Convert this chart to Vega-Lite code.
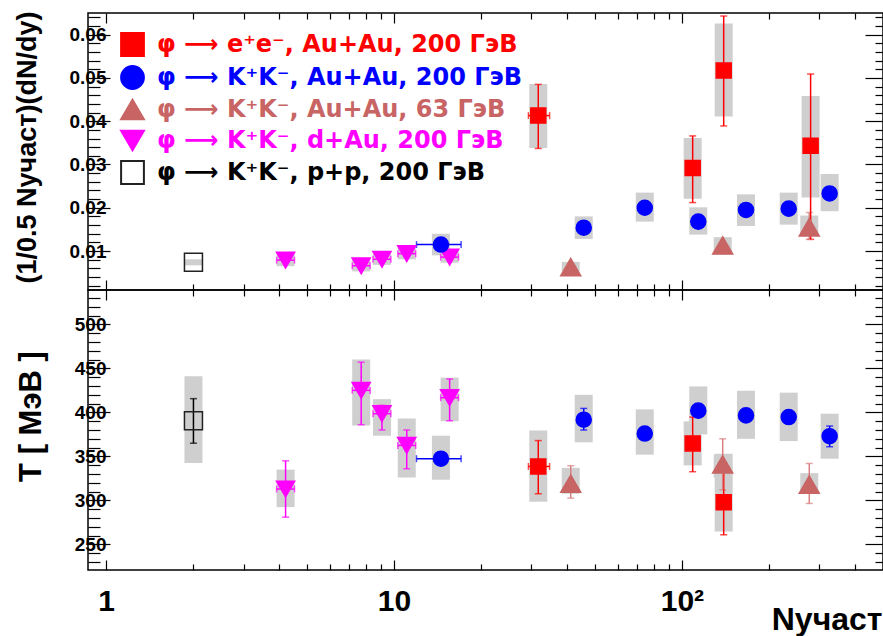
{
  "$schema": "https://vega.github.io/schema/vega-lite/v6.json",
  "background": "white",
  "padding": {"left": 12, "top": 7, "right": 2, "bottom": 2},
  "spacing": 0,
  "bounds": "flush",
  "config": {
    "view": {"stroke": "#000000", "strokeWidth": 1.5},
    "font": "Liberation Sans",
    "axis": {"grid": false, "domain": false, "labelFont": "Liberation Sans", "labelFontWeight": "bold", "labelColor": "#000000", "tickColor": "#000000", "tickWidth": 1.2, "titleFont": "Liberation Sans", "titleFontWeight": "bold", "titleColor": "#000000", "labelOverlap": false, "labelFlush": false},
    "legend": {"orient": "none", "legendX": 32, "legendY": 19, "padding": 0, "labelFont": "DejaVu Sans", "labelFontSize": 24, "labelFontWeight": "bold", "labelLimit": 700, "symbolSize": 520, "symbolStrokeWidth": 2, "rowPadding": 2, "labelOffset": 12, "title": null}
  },
  "datasets": {
    "pts": [
      {"panel": "A", "series": "pp", "x": 2.01, "y": 0.0074, "slo": 0.0067, "shi": 0.0081},
      {"panel": "A", "series": "dau", "x": 4.2, "y": 0.0079, "ylo": 0.0076, "yhi": 0.0082, "slo": 0.0065, "shi": 0.0093, "xlo": 3.91, "xhi": 4.51},
      {"panel": "A", "series": "dau", "x": 7.69, "y": 0.0066, "ylo": 0.0063, "yhi": 0.0069, "slo": 0.0053, "shi": 0.0081, "xlo": 7.16, "xhi": 8.26},
      {"panel": "A", "series": "dau", "x": 9.08, "y": 0.0081, "ylo": 0.0078, "yhi": 0.0084, "slo": 0.0068, "shi": 0.0096, "xlo": 8.45, "xhi": 9.75},
      {"panel": "A", "series": "dau", "x": 11.07, "y": 0.0094, "ylo": 0.0091, "yhi": 0.0097, "slo": 0.0081, "shi": 0.0109, "xlo": 10.31, "xhi": 11.89},
      {"panel": "A", "series": "dau", "x": 15.6, "y": 0.0086, "ylo": 0.0083, "yhi": 0.0089, "slo": 0.0073, "shi": 0.0101, "xlo": 14.52, "xhi": 16.75},
      {"panel": "A", "series": "kk200", "x": 14.55, "y": 0.0115, "ylo": 0.0111, "yhi": 0.0119, "slo": 0.009, "shi": 0.014, "xlo": 11.97, "xhi": 17.1},
      {"panel": "A", "series": "kk200", "x": 45.6, "y": 0.0154, "ylo": 0.015, "yhi": 0.0158, "slo": 0.0128, "shi": 0.018},
      {"panel": "A", "series": "kk200", "x": 74.3, "y": 0.02, "ylo": 0.0196, "yhi": 0.0204, "slo": 0.0168, "shi": 0.0235},
      {"panel": "A", "series": "kk200", "x": 114, "y": 0.0168, "ylo": 0.0164, "yhi": 0.0172, "slo": 0.0138, "shi": 0.0201},
      {"panel": "A", "series": "kk200", "x": 167, "y": 0.0195, "ylo": 0.0191, "yhi": 0.0199, "slo": 0.0158, "shi": 0.0231},
      {"panel": "A", "series": "kk200", "x": 235, "y": 0.0198, "ylo": 0.0194, "yhi": 0.0202, "slo": 0.0161, "shi": 0.0235},
      {"panel": "A", "series": "kk200", "x": 326, "y": 0.0233, "ylo": 0.0229, "yhi": 0.0237, "slo": 0.0192, "shi": 0.0278},
      {"panel": "A", "series": "ee", "x": 31.7, "y": 0.0413, "ylo": 0.0337, "yhi": 0.0485, "slo": 0.0338, "shi": 0.0486, "xlo": 29.3, "xhi": 34.7},
      {"panel": "A", "series": "ee", "x": 109, "y": 0.0292, "ylo": 0.0212, "yhi": 0.0366, "slo": 0.0221, "shi": 0.0361},
      {"panel": "A", "series": "ee", "x": 139.7, "y": 0.0517, "ylo": 0.0389, "yhi": 0.0643, "slo": 0.0411, "shi": 0.0626},
      {"panel": "A", "series": "ee", "x": 280, "y": 0.0343, "ylo": 0.0127, "yhi": 0.0509, "slo": 0.0224, "shi": 0.0458},
      {"panel": "A", "series": "kk63", "x": 41.1, "y": 0.0063, "slo": 0.0053, "shi": 0.0075},
      {"panel": "A", "series": "kk63", "x": 138.6, "y": 0.0113, "slo": 0.0092, "shi": 0.0132},
      {"panel": "A", "series": "kk63", "x": 277, "y": 0.0155, "ylo": 0.0127, "yhi": 0.0189, "slo": 0.014, "shi": 0.0182},
      {"panel": "B", "series": "pp", "x": 2.01, "y": 390.6, "ylo": 365, "yhi": 415.6, "slo": 342.4, "shi": 441},
      {"panel": "B", "series": "dau", "x": 4.2, "y": 313, "ylo": 281, "yhi": 345, "slo": 292.4, "shi": 335, "xlo": 3.91, "xhi": 4.51},
      {"panel": "B", "series": "dau", "x": 7.69, "y": 425, "ylo": 386, "yhi": 457, "slo": 385, "shi": 460, "xlo": 7.16, "xhi": 8.26},
      {"panel": "B", "series": "dau", "x": 9.08, "y": 398.5, "ylo": 380, "yhi": 408, "slo": 373.5, "shi": 415, "xlo": 8.45, "xhi": 9.75},
      {"panel": "B", "series": "dau", "x": 11.07, "y": 362.5, "ylo": 336, "yhi": 380, "slo": 326, "shi": 393, "xlo": 10.31, "xhi": 11.89},
      {"panel": "B", "series": "dau", "x": 15.6, "y": 416.7, "ylo": 390.5, "yhi": 438, "slo": 390, "shi": 439.4, "xlo": 14.52, "xhi": 16.75},
      {"panel": "B", "series": "kk200", "x": 14.55, "y": 347.4, "ylo": 341, "yhi": 354, "slo": 323.5, "shi": 373.5, "xlo": 11.97, "xhi": 17.1},
      {"panel": "B", "series": "kk200", "x": 45.6, "y": 391.7, "ylo": 380, "yhi": 404.5, "slo": 366, "shi": 420},
      {"panel": "B", "series": "kk200", "x": 74.3, "y": 376, "ylo": 370, "yhi": 382, "slo": 352, "shi": 403.4},
      {"panel": "B", "series": "kk200", "x": 114, "y": 402, "ylo": 396, "yhi": 408, "slo": 375, "shi": 429.5},
      {"panel": "B", "series": "kk200", "x": 167, "y": 396.6, "ylo": 391, "yhi": 402, "slo": 370, "shi": 424.6},
      {"panel": "B", "series": "kk200", "x": 235, "y": 394.7, "ylo": 389, "yhi": 400, "slo": 367.4, "shi": 422.4},
      {"panel": "B", "series": "kk200", "x": 326, "y": 373, "ylo": 361, "yhi": 384.5, "slo": 347.4, "shi": 398.5},
      {"panel": "B", "series": "ee", "x": 31.7, "y": 338.6, "ylo": 307.6, "yhi": 368, "slo": 298.5, "shi": 379.5, "xlo": 29.3, "xhi": 34.7},
      {"panel": "B", "series": "ee", "x": 109, "y": 364.8, "ylo": 332.6, "yhi": 394.7, "slo": 339.8, "shi": 389.8},
      {"panel": "B", "series": "ee", "x": 139.7, "y": 298, "ylo": 261, "yhi": 335, "slo": 264.8, "shi": 353},
      {"panel": "B", "series": "kk63", "x": 41.1, "y": 319, "ylo": 302.6, "yhi": 339.4, "slo": 307.6, "shi": 337},
      {"panel": "B", "series": "kk63", "x": 138.6, "y": 341, "ylo": 312, "yhi": 370, "slo": 326, "shi": 352},
      {"panel": "B", "series": "kk63", "x": 277, "y": 318, "ylo": 296.6, "yhi": 342, "slo": 307.6, "shi": 331}
    ]
  },
  "resolve": {
    "scale": {"x": "independent", "y": "independent", "shape": "independent", "fill": "independent", "stroke": "independent", "color": "independent", "size": "independent"},
    "legend": {"shape": "independent", "fill": "independent", "stroke": "independent", "color": "independent", "size": "independent"}
  },
  "vconcat": [
    {
      "width": 795,
      "height": 277,
      "data": {"name": "pts"},
      "transform": [{"filter": "datum.panel === 'A'"}],
      "resolve": {"axis": {"x": "independent", "y": "independent"}},
      "layer": [
        {
          "transform": [{"filter": "isValid(datum.slo)"}],
          "mark": {"type": "bar", "width": 18, "color": "#cfcfcf"},
          "encoding": {
            "x": {"field": "x", "type": "quantitative", "scale": {"type": "log", "domain": [0.9, 480], "nice": false},
              "axis": {"orient": "bottom", "values": [1,2,3,4,5,6,7,8,9,10,20,30,40,50,60,70,80,90,100,200,300,400], "labels": false, "title": null,
                "tickSize": {"condition": {"test": "datum.value===1||datum.value===10||datum.value===100", "value": -10}, "value": -6}}},
            "y": {"field": "slo", "type": "quantitative", "scale": {"domain": [0.001, 0.065], "nice": false},
              "axis": {"orient": "left", "values": [0.002,0.004,0.006,0.008,0.01,0.012,0.014,0.016,0.018,0.02,0.022,0.024,0.026,0.028,0.03,0.032,0.034,0.036,0.038,0.04,0.042,0.044,0.046,0.048,0.05,0.052,0.054,0.056,0.058,0.06,0.062,0.064],
                "labelExpr": "abs(datum.value*100-round(datum.value*100))<0.001 ? format(datum.value, '.2f') : ''",
                "labelFontSize": 19, "labelPadding": 4,
                "tickSize": {"condition": {"test": "abs(datum.value*100-round(datum.value*100))<0.001", "value": -22}, "value": -12},
                "title": "(1/0.5 Nучаст)(dN/dy)", "titleFontSize": 27, "titleAngle": -90, "titleX": -53, "titleY": 134, "titleBaseline": "alphabetic", "titleAlign": "center"}},
            "y2": {"field": "shi"}
          }
        },
        {
          "transform": [{"filter": "isValid(datum.ylo)"}],
          "mark": {"type": "errorbar", "ticks": {"size": 7}, "thickness": 1.5},
          "encoding": {
            "x": {"field": "x", "type": "quantitative", "axis": null},
            "y": {"field": "ylo", "type": "quantitative", "axis": null},
            "y2": {"field": "yhi"},
            "color": {"field": "series", "type": "nominal", "scale": {"domain": ["pp","dau","kk63","kk200","ee"], "range": ["#000000","#ff00ff","#d98080","#0000ff","#ff0000"]}, "legend": null}
          }
        },
        {
          "transform": [{"filter": "isValid(datum.xlo)"}],
          "mark": {"type": "errorbar", "ticks": {"size": 7}, "thickness": 1.5},
          "encoding": {
            "y": {"field": "y", "type": "quantitative", "axis": null},
            "x": {"field": "xlo", "type": "quantitative", "axis": null},
            "x2": {"field": "xhi"},
            "color": {"field": "series", "type": "nominal", "scale": {"domain": ["pp","dau","kk63","kk200","ee"], "range": ["#000000","#ff00ff","#d98080","#0000ff","#ff0000"]}, "legend": null}
          }
        },
        {
          "mark": {"type": "point", "opacity": 1, "fillOpacity": 1, "strokeWidth": 1.5},
          "encoding": {
            "x": {"field": "x", "type": "quantitative",
              "axis": {"orient": "top", "values": [1,2,3,4,5,6,7,8,9,10,20,30,40,50,60,70,80,90,100,200,300,400], "labels": false, "title": null,
                "tickSize": {"condition": {"test": "datum.value===1||datum.value===10||datum.value===100", "value": -10}, "value": -6}}},
            "y": {"field": "y", "type": "quantitative",
              "axis": {"orient": "right", "values": [0.002,0.004,0.006,0.008,0.01,0.012,0.014,0.016,0.018,0.02,0.022,0.024,0.026,0.028,0.03,0.032,0.034,0.036,0.038,0.04,0.042,0.044,0.046,0.048,0.05,0.052,0.054,0.056,0.058,0.06,0.062,0.064], "labels": false, "title": null,
                "tickSize": {"condition": {"test": "abs(datum.value*100-round(datum.value*100))<0.001", "value": -18}, "value": -8}}},
            "shape": {"field": "series", "type": "nominal",
              "scale": {"domain": ["ee","kk200","kk63","dau","pp"], "range": ["square","circle","triangle-up","triangle-down","square"]},
              "legend": {
                "title": null, "orient": "none", "legendX": 32, "legendY": 19,
                "labelExpr": "datum.value==='ee' ? 'φ ⟶  e⁺e⁻, Au+Au, 200  ГэВ' : datum.value==='kk200' ? 'φ ⟶  K⁺K⁻, Au+Au, 200 ГэВ' : datum.value==='kk63' ? 'φ ⟶  K⁺K⁻, Au+Au, 63 ГэВ' : datum.value==='dau' ? 'φ ⟶  K⁺K⁻, d+Au, 200 ГэВ' : 'φ ⟶  K⁺K⁻, p+p, 200 ГэВ'",
                "labelColor": {"expr": "datum.value === 'ee' ? '#ff0000' : datum.value === 'kk200' ? '#0000ff' : datum.value === 'kk63' ? '#c86464' : datum.value === 'dau' ? '#ff00ff' : '#000000'"}
              }},
            "fill": {"field": "series", "type": "nominal", "scale": {"domain": ["ee","kk200","kk63","dau","pp"], "range": ["#ff0000","#0000ff","#c86464","#ff00ff","transparent"]},
              "legend": {
                "title": null, "orient": "none", "legendX": 32, "legendY": 19,
                "labelExpr": "datum.value==='ee' ? 'φ ⟶  e⁺e⁻, Au+Au, 200  ГэВ' : datum.value==='kk200' ? 'φ ⟶  K⁺K⁻, Au+Au, 200 ГэВ' : datum.value==='kk63' ? 'φ ⟶  K⁺K⁻, Au+Au, 63 ГэВ' : datum.value==='dau' ? 'φ ⟶  K⁺K⁻, d+Au, 200 ГэВ' : 'φ ⟶  K⁺K⁻, p+p, 200 ГэВ'",
                "labelColor": {"expr": "datum.value === 'ee' ? '#ff0000' : datum.value === 'kk200' ? '#0000ff' : datum.value === 'kk63' ? '#c86464' : datum.value === 'dau' ? '#ff00ff' : '#000000'"}
              }},
            "stroke": {"field": "series", "type": "nominal", "scale": {"domain": ["ee","kk200","kk63","dau","pp"], "range": ["#ff0000","#0000ff","#c86464","#ff00ff","#222222"]},
              "legend": {
                "title": null, "orient": "none", "legendX": 32, "legendY": 19,
                "labelExpr": "datum.value==='ee' ? 'φ ⟶  e⁺e⁻, Au+Au, 200  ГэВ' : datum.value==='kk200' ? 'φ ⟶  K⁺K⁻, Au+Au, 200 ГэВ' : datum.value==='kk63' ? 'φ ⟶  K⁺K⁻, Au+Au, 63 ГэВ' : datum.value==='dau' ? 'φ ⟶  K⁺K⁻, d+Au, 200 ГэВ' : 'φ ⟶  K⁺K⁻, p+p, 200 ГэВ'",
                "labelColor": {"expr": "datum.value === 'ee' ? '#ff0000' : datum.value === 'kk200' ? '#0000ff' : datum.value === 'kk63' ? '#c86464' : datum.value === 'dau' ? '#ff00ff' : '#000000'"}
              }},
            "size": {"field": "series", "type": "nominal", "scale": {"type": "ordinal", "domain": ["pp","dau","kk63","kk200","ee"], "range": [324,330,400,227,225]}, "legend": null}
          }
        }
      ]
    },
    {
      "width": 795,
      "height": 280,
      "data": {"name": "pts"},
      "transform": [{"filter": "datum.panel === 'B'"}],
      "resolve": {"axis": {"x": "independent", "y": "independent"}},
      "layer": [
        {
          "transform": [{"filter": "isValid(datum.slo)"}],
          "mark": {"type": "bar", "width": 18, "color": "#cfcfcf"},
          "encoding": {
            "x": {"field": "x", "type": "quantitative", "scale": {"type": "log", "domain": [0.9, 480], "nice": false},
              "axis": {"orient": "bottom", "values": [1,2,3,4,5,6,7,8,9,10,20,30,40,50,60,70,80,90,100,200,300,400],
                "labelExpr": "datum.value===1 ? '1' : datum.value===10 ? '10' : datum.value===100 ? '10²' : ''",
                "labelFontSize": 30, "labelPadding": 26,
                "tickSize": {"condition": {"test": "datum.value===1||datum.value===10||datum.value===100", "value": -10}, "value": -6},
                "title": "Nучаст", "titleFontSize": 32, "titleAnchor": "end", "titleAlign": "right", "titleX": 794, "titleY": 59, "titleBaseline": "alphabetic"}},
            "y": {"field": "slo", "type": "quantitative", "scale": {"domain": [221, 539], "nice": false},
              "axis": {"orient": "left", "values": [230,240,250,260,270,280,290,300,310,320,330,340,350,360,370,380,390,400,410,420,430,440,450,460,470,480,490,500,510,520,530],
                "labelExpr": "datum.value % 50 === 0 ? '' + datum.value : ''",
                "labelFontSize": 19, "labelPadding": 4,
                "tickSize": {"condition": {"test": "datum.value % 50 === 0", "value": -22}, "value": -12},
                "title": "T [ МэВ ]", "titleFontSize": 31, "titleAngle": -90, "titleX": -48, "titleY": 126, "titleBaseline": "alphabetic", "titleAlign": "center"}},
            "y2": {"field": "shi"}
          }
        },
        {
          "transform": [{"filter": "isValid(datum.ylo)"}],
          "mark": {"type": "errorbar", "ticks": {"size": 7}, "thickness": 1.5},
          "encoding": {
            "x": {"field": "x", "type": "quantitative", "axis": null},
            "y": {"field": "ylo", "type": "quantitative", "axis": null},
            "y2": {"field": "yhi"},
            "color": {"field": "series", "type": "nominal", "scale": {"domain": ["pp","dau","kk63","kk200","ee"], "range": ["#000000","#ff00ff","#d98080","#0000ff","#ff0000"]}, "legend": null}
          }
        },
        {
          "transform": [{"filter": "isValid(datum.xlo)"}],
          "mark": {"type": "errorbar", "ticks": {"size": 7}, "thickness": 1.5},
          "encoding": {
            "y": {"field": "y", "type": "quantitative", "axis": null},
            "x": {"field": "xlo", "type": "quantitative", "axis": null},
            "x2": {"field": "xhi"},
            "color": {"field": "series", "type": "nominal", "scale": {"domain": ["pp","dau","kk63","kk200","ee"], "range": ["#000000","#ff00ff","#d98080","#0000ff","#ff0000"]}, "legend": null}
          }
        },
        {
          "mark": {"type": "point", "opacity": 1, "fillOpacity": 1, "strokeWidth": 1.5},
          "encoding": {
            "x": {"field": "x", "type": "quantitative",
              "axis": {"orient": "top", "values": [1,2,3,4,5,6,7,8,9,10,20,30,40,50,60,70,80,90,100,200,300,400], "labels": false, "title": null,
                "tickSize": {"condition": {"test": "datum.value===1||datum.value===10||datum.value===100", "value": -10}, "value": -6}}},
            "y": {"field": "y", "type": "quantitative",
              "axis": {"orient": "right", "values": [230,240,250,260,270,280,290,300,310,320,330,340,350,360,370,380,390,400,410,420,430,440,450,460,470,480,490,500,510,520,530], "labels": false, "title": null,
                "tickSize": {"condition": {"test": "datum.value % 50 === 0", "value": -18}, "value": -8}}},
            "shape": {"field": "series", "type": "nominal", "scale": {"domain": ["ee","kk200","kk63","dau","pp"], "range": ["square","circle","triangle-up","triangle-down","square"]}, "legend": null},
            "fill": {"field": "series", "type": "nominal", "scale": {"domain": ["ee","kk200","kk63","dau","pp"], "range": ["#ff0000","#0000ff","#c86464","#ff00ff","transparent"]}, "legend": null},
            "stroke": {"field": "series", "type": "nominal", "scale": {"domain": ["ee","kk200","kk63","dau","pp"], "range": ["#ff0000","#0000ff","#c86464","#ff00ff","#222222"]}, "legend": null},
            "size": {"field": "series", "type": "nominal", "scale": {"type": "ordinal", "domain": ["pp","dau","kk63","kk200","ee"], "range": [324,330,400,227,225]}, "legend": null}
          }
        }
      ]
    }
  ]
}
